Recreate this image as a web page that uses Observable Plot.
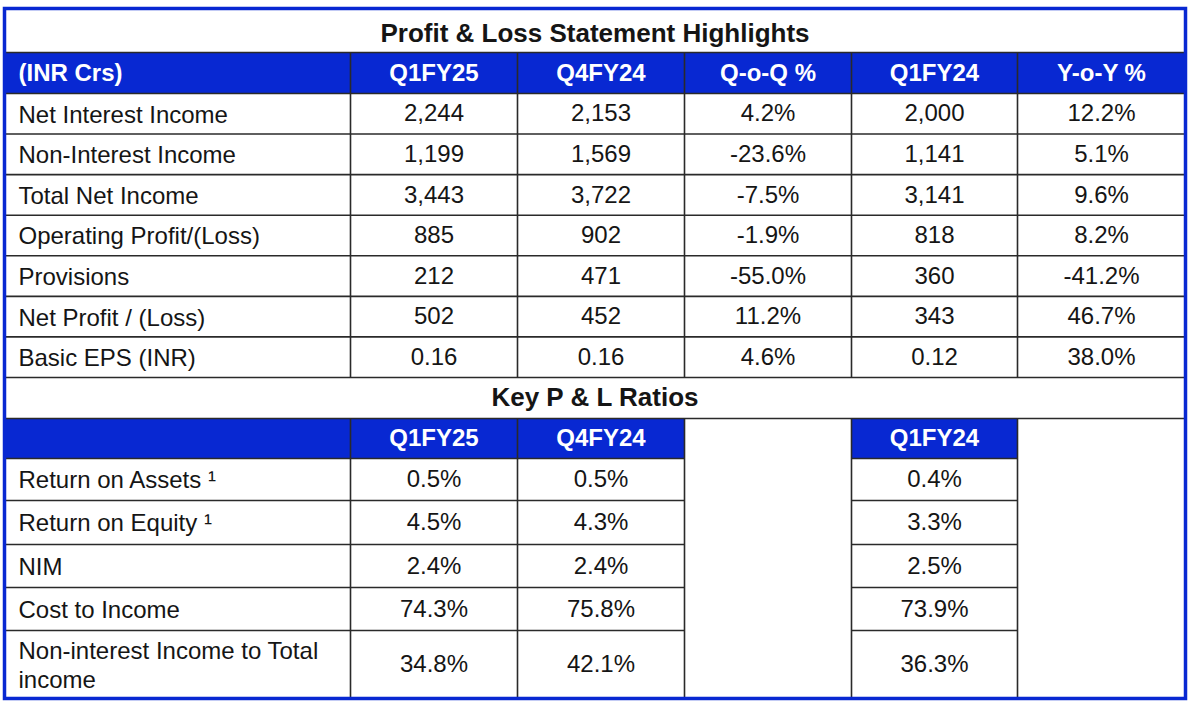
<!DOCTYPE html>
<html><head><meta charset="utf-8">
<script src="https://cdn.jsdelivr.net/npm/d3@7"></script>
<script src="https://cdn.jsdelivr.net/npm/@observablehq/plot@0.6"></script>
<style>body{margin:0;background:#fff}</style>
</head><body><div id="chart"></div>
<script>
// ---------- DATA ----------
const title1 = "Profit & Loss Statement Highlights";
const headers1 = ["(INR Crs)", "Q1FY25", "Q4FY24", "Q-o-Q %", "Q1FY24", "Y-o-Y %"];
const metrics1 = ["Net Interest Income", "Non-Interest Income", "Total Net Income", "Operating Profit/(Loss)", "Provisions", "Net Profit / (Loss)", "Basic EPS (INR)"];
const q1fy25 = [2244, 1199, 3443, 885, 212, 502, 0.16];
const q4fy24 = [2153, 1569, 3722, 902, 471, 452, 0.16];
const qoq = [4.2, -23.6, -7.5, -1.9, -55.0, 11.2, 4.6];
const q1fy24 = [2000, 1141, 3141, 818, 360, 343, 0.12];
const yoy = [12.2, 5.1, 9.6, 8.2, -41.2, 46.7, 38.0];

const title2 = "Key P & L Ratios";
const headers2 = ["", "Q1FY25", "Q4FY24", null, "Q1FY24", null];
const metrics2 = ["Return on Assets \u00b9", "Return on Equity \u00b9", "NIM", "Cost to Income", "Non-interest Income to Total\nincome"];
const ratioQ1FY25 = [0.5, 4.5, 2.4, 74.3, 34.8];
const ratioQ4FY24 = [0.5, 4.3, 2.4, 75.8, 42.1];
const ratioQ1FY24 = [0.4, 3.3, 2.5, 73.9, 36.3];

// ---------- LAYOUT ----------
const blue = "#0828d2";
const ink = "#151515";
const gridColor = "#2a2a2a";
const colW = [346, 167, 167, 167, 166, 168];
const colX = [0];
colW.forEach((w, i) => colX.push(colX[i] + w));
const W = colX[colX.length - 1];
const hTitle1 = 44, hHead1 = 41, hRow1 = 40.57, hTitle2 = 41, hHead2 = 40;
const hRow2 = [42, 44, 43, 43, 68];
const yHead1 = hTitle1;
const yData1 = yHead1 + hHead1;
const row1Top = i => yData1 + i * hRow1;
const yTitle2 = row1Top(metrics1.length);
const yHead2 = yTitle2 + hTitle2;
const yData2 = yHead2 + hHead2;
const row2Tops = [yData2];
hRow2.forEach((h, i) => row2Tops.push(row2Tops[i] + h));
const H = row2Tops[row2Tops.length - 1];
const cx = c => (colX[c] + colX[c + 1]) / 2;

const fmtVal = v => Number.isInteger(v) ? d3.format(",")(v) : v.toFixed(2);
const fmtPct = v => v.toFixed(1) + "%";

// fills
const fills = [];
headers1.forEach((h, c) => fills.push({x1: colX[c], x2: colX[c + 1], y1: yHead1, y2: yData1}));
headers2.forEach((h, c) => { if (h !== null) fills.push({x1: colX[c], x2: colX[c + 1], y1: yHead2, y2: yData2}); });

// lines
const lines = [];
lines.push({x1: 0, x2: W, y1: yHead1, y2: yHead1});
for (let i = 0; i <= metrics1.length; i++) lines.push({x1: 0, x2: W, y1: row1Top(i), y2: row1Top(i)});
lines.push({x1: 0, x2: W, y1: yHead2, y2: yHead2});
for (let c = 1; c < colW.length; c++) lines.push({x1: colX[c], x2: colX[c], y1: yHead1, y2: yTitle2});
for (let i = 0; i < row2Tops.length - 1; i++) {
  lines.push({x1: colX[0], x2: colX[3], y1: row2Tops[i], y2: row2Tops[i]});
  lines.push({x1: colX[4], x2: colX[5], y1: row2Tops[i], y2: row2Tops[i]});
}
for (let c = 1; c < colW.length; c++) lines.push({x1: colX[c], x2: colX[c], y1: yHead2, y2: H});

// texts
const titles = [
  {x: W / 2, y: hTitle1 / 2 + 3, t: title1},
  {x: W / 2, y: yTitle2 + hTitle2 / 2, t: title2}
];
const headLeft = [{x: colX[0] + 14, y: yHead1 + hHead1 / 2, t: headers1[0]}];
const headCenter = [];
headers1.forEach((h, c) => { if (c > 0) headCenter.push({x: cx(c), y: yHead1 + hHead1 / 2, t: h}); });
headers2.forEach((h, c) => { if (h) headCenter.push({x: cx(c), y: yHead2 + hHead2 / 2, t: h}); });

const labels = [];
metrics1.forEach((m, i) => labels.push({x: colX[0] + 14, y: row1Top(i) + hRow1 / 2, t: m}));
metrics2.forEach((m, i) => labels.push({x: colX[0] + 14, y: (row2Tops[i] + row2Tops[i + 1]) / 2, t: m}));

const values = [];
metrics1.forEach((m, i) => {
  const y = row1Top(i) + hRow1 / 2;
  values.push({x: cx(1), y, t: fmtVal(q1fy25[i])});
  values.push({x: cx(2), y, t: fmtVal(q4fy24[i])});
  values.push({x: cx(3), y, t: fmtPct(qoq[i])});
  values.push({x: cx(4), y, t: fmtVal(q1fy24[i])});
  values.push({x: cx(5), y, t: fmtPct(yoy[i])});
});
metrics2.forEach((m, i) => {
  const y = (row2Tops[i] + row2Tops[i + 1]) / 2;
  values.push({x: cx(1), y, t: fmtPct(ratioQ1FY25[i])});
  values.push({x: cx(2), y, t: fmtPct(ratioQ4FY24[i])});
  values.push({x: cx(4), y, t: fmtPct(ratioQ1FY24[i])});
});

const font = "'Liberation Sans', Arial, Helvetica, sans-serif";
const fs = 24;

const chart = Plot.plot({
  width: 1200,
  height: 710,
  marginLeft: 4,
  marginRight: 1200 - 4 - W,
  marginTop: 8,
  marginBottom: 710 - 8 - H,
  style: {fontFamily: font, background: "#fff"},
  x: {domain: [0, W], axis: null},
  y: {domain: [0, H], reverse: true, axis: null},
  marks: [
    Plot.rect(fills, {x1: "x1", x2: "x2", y1: "y1", y2: "y2", fill: blue}),
    Plot.link(lines, {x1: "x1", x2: "x2", y1: "y1", y2: "y2", stroke: gridColor, strokeWidth: 1.6}),
    Plot.frame({stroke: blue, strokeWidth: 3.5}),
    Plot.text(titles, {x: "x", y: "y", text: "t", fontSize: 26, fontWeight: "bold", fill: ink}),
    Plot.text(headLeft, {x: "x", y: "y", text: "t", textAnchor: "start", fontSize: fs, fontWeight: "bold", fill: "#fff"}),
    Plot.text(headCenter, {x: "x", y: "y", text: "t", fontSize: fs, fontWeight: "bold", fill: "#fff"}),
    Plot.text(labels, {x: "x", y: "y", text: "t", textAnchor: "start", fontSize: fs, lineHeight: 1.17, fill: ink}),
    Plot.text(values, {x: "x", y: "y", text: "t", fontSize: fs, fill: ink})
  ]
});
document.getElementById("chart").appendChild(chart);
</script>
</body></html>
